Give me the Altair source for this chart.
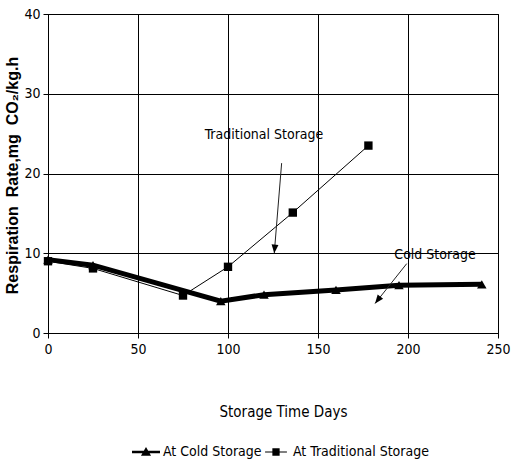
import altair as alt
import pandas as pd

# Respiration rate of stored produce, two storage regimes
cold_days = [0, 25, 96, 120, 160, 195, 241]
cold_rate = [9.2, 8.5, 4.0, 4.8, 5.4, 6.0, 6.1]
trad_days = [0, 25, 75, 100, 136, 178]
trad_rate = [9.0, 8.1, 4.7, 8.3, 15.1, 23.5]

series_names = ["At Cold Storage", "At Traditional Storage"]

# Callout labels and their arrows (data units)
note_text = ["Traditional Storage", "Cold Storage"]
note_day = [120, 215]
note_rate = [24.8, 9.8]
arrow_day = [129.8, 199.3]
arrow_rate = [21.3, 8.7]
arrow_day2 = [125.7, 181.7]
arrow_rate2 = [10.0, 3.7]
arrow_angle = [5, 38]

NARROW = "'Liberation Sans Narrow', 'DejaVu Sans Condensed', sans-serif"

cold = pd.DataFrame({"day": cold_days, "rate": cold_rate, "series": series_names[0]})
trad = pd.DataFrame({"day": trad_days, "rate": trad_rate, "series": series_names[1]})
data = pd.concat([cold, trad], ignore_index=True)

notes = pd.DataFrame({
    "text": note_text, "day": note_day, "rate": note_rate,
    "x1": arrow_day, "y1": arrow_rate, "x2": arrow_day2, "y2": arrow_rate2,
    "angle": arrow_angle,
})

x_scale = alt.Scale(domain=[0, 250], nice=False, zero=False)
y_scale = alt.Scale(domain=[0, 40], nice=False)

x_enc = alt.X("day:Q", scale=x_scale, axis=alt.Axis(
    title="Storage Time Days", values=[0, 50, 100, 150, 200, 250],
    titleY=78, titleBaseline="middle", titleX=235, labelFlush=False,
))
y_enc = alt.Y("rate:Q", scale=y_scale, axis=alt.Axis(
    title="Respiration\u00a0 Rate,mg\u00a0 CO₂/kg.h", values=[0, 10, 20, 30, 40],
    labelFlush=False, titleY=161,
))

base = alt.Chart(data)

cold_line = base.transform_filter(alt.datum.series == series_names[0]).mark_line(
    color="black", strokeWidth=5
).encode(x=x_enc, y=y_enc)
cold_pts = base.transform_filter(alt.datum.series == series_names[0]).mark_point(
    shape="triangle-up", filled=True, color="black", size=90, opacity=1
).encode(x="day:Q", y="rate:Q")

trad_line = base.transform_filter(alt.datum.series == series_names[1]).mark_line(
    color="black", strokeWidth=1
).encode(x="day:Q", y="rate:Q")
trad_pts = base.transform_filter(alt.datum.series == series_names[1]).mark_point(
    shape="square", filled=True, color="black", size=70, opacity=1
).encode(x="day:Q", y="rate:Q")

# Legend glyphs: line segment with the series marker on top
COLD_GLYPH = "M-1,-0.09H1V0.09H-1Z M0,-0.36L0.36,0.26L-0.36,0.26Z"
TRAD_GLYPH = "M-0.78,-0.03H0.78V0.03H-0.78Z M-0.26,-0.26H0.26V0.26H-0.26Z"

legend_layer = base.transform_filter("datum.day < 0").mark_point(
    filled=True, color="black"
).encode(
    x="day:Q", y="rate:Q",
    shape=alt.Shape("series:N", scale=alt.Scale(
        domain=series_names, range=[COLD_GLYPH, TRAD_GLYPH]),
        legend=alt.Legend(
            title=None, orient="none", direction="horizontal",
            legendX=84, legendY=424, symbolSize=784,
            symbolFillColor="black", symbolStrokeWidth=0, symbolOpacity=1,
            labelFont=NARROW, labelFontSize=14, labelColor="black",
            labelOffset=3, columnPadding=0, symbolType="circle",
        )),
)

note_text_layer = alt.Chart(notes).mark_text(
    font=NARROW, fontSize=14, color="black"
).encode(x="day:Q", y="rate:Q", text="text:N")

arrow_shaft = alt.Chart(notes).mark_rule(color="#222", strokeWidth=1).encode(
    x="x1:Q", y="y1:Q", x2="x2:Q", y2="y2:Q"
)
arrow_head = alt.Chart(notes).mark_point(
    shape="M0,0L-0.4,-1L0.4,-1Z", filled=True, color="black", size=300, opacity=1
).encode(x="x2:Q", y="y2:Q", angle=alt.Angle("angle:Q", scale=None))

chart = alt.layer(
    legend_layer, cold_line, trad_line, cold_pts, trad_pts,
    arrow_shaft, arrow_head, note_text_layer,
).properties(
    width=450, height=319,
    autosize=alt.AutoSizeParams(type="none"),
    padding={"left": 48, "top": 14, "right": 14, "bottom": 130},
).configure_view(stroke="black", strokeWidth=1).configure_axis(
    grid=True, gridColor="black", gridWidth=1, gridOpacity=1,
    domainColor="black", tickColor="black", tickSize=5,
    labelFont=NARROW, labelFontSize=14, labelColor="black",
    titleColor="black",
).configure_axisX(
    titleFont=NARROW, titleFontSize=15, titleFontWeight="normal", labelPadding=4,
).configure_axisY(
    titleFont="'Liberation Sans', Arial, sans-serif", titleFontSize=16,
    titleFontWeight="bold", titlePadding=3, labelPadding=3,
)

chart.save("out.html", embed_options={"renderer": "svg", "actions": False})
